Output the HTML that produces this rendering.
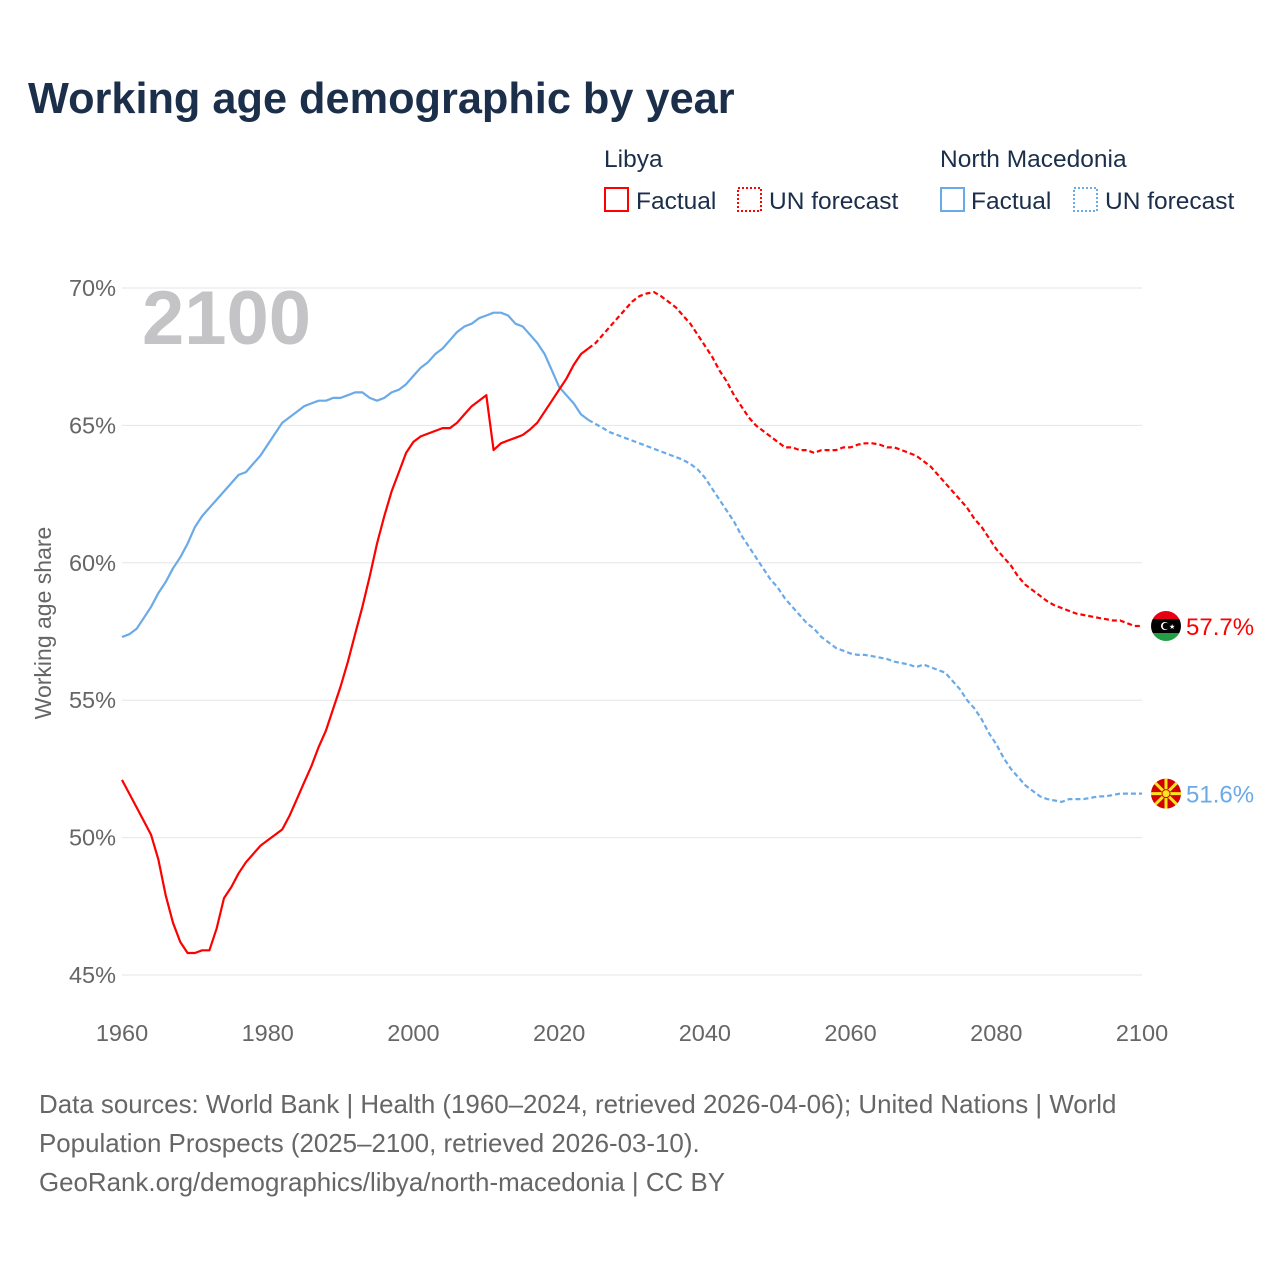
<!DOCTYPE html>
<html><head><meta charset="utf-8">
<style>
body{margin:0;background:#fff;font-family:"Liberation Sans",sans-serif}
#wrap{position:relative;width:1280px;height:1280px;overflow:hidden}
</style></head><body>
<div id="wrap">
<svg id="chart" width="1280" height="1280" xmlns="http://www.w3.org/2000/svg">
<text x="28" y="113" font-size="43.3" font-weight="bold" fill="#1b2f4b">Working age demographic by year</text>
<g font-size="24.5" fill="#1b2f4b">
<text x="604" y="167">Libya</text>
<rect x="605" y="188" width="23" height="23" fill="none" stroke="#f00" stroke-width="2"/>
<text x="636" y="209">Factual</text>
<rect x="738" y="188" width="23" height="23" fill="none" stroke="#f00" stroke-width="2" stroke-dasharray="2,2"/>
<text x="769" y="209">UN forecast</text>
<text x="940" y="167">North Macedonia</text>
<rect x="941" y="188" width="23" height="23" fill="none" stroke="#6aaae8" stroke-width="2"/>
<text x="971" y="209">Factual</text>
<rect x="1074" y="188" width="23" height="23" fill="none" stroke="#6aaae8" stroke-width="2" stroke-dasharray="2,2"/>
<text x="1105" y="209">UN forecast</text>
</g>
<g id="grid"></g>
<text x="142" y="344" font-size="76" font-weight="bold" fill="#c4c4c6">2100</text>
<text transform="translate(51,623) rotate(-90)" text-anchor="middle" font-size="23" fill="#666">Working age share</text>
<g id="series"></g>
<g id="ends"></g>
<g font-size="25.9" fill="#666">
<text x="39" y="1113">Data sources: World Bank | Health (1960–2024, retrieved 2026-04-06); United Nations | World</text>
<text x="39" y="1152">Population Prospects (2025–2100, retrieved 2026-03-10).</text>
<text x="39" y="1191">GeoRank.org/demographics/libya/north-macedonia | CC BY</text>
</g>
</svg>
</div>
<script>
const yTicks=[45,50,55,60,65,70];
const xTicks=[1960,1980,2000,2020,2040,2060,2080,2100];
const libyaFactual=[52.1,51.6,51.1,50.6,50.1,49.2,47.9,46.9,46.2,45.8,45.8,45.9,45.9,46.7,47.8,48.2,48.7,49.1,49.4,49.7,49.9,50.1,50.3,50.8,51.4,52.0,52.6,53.3,53.9,54.7,55.5,56.4,57.4,58.4,59.5,60.7,61.7,62.6,63.3,64.0,64.4,64.6,64.7,64.8,64.9,64.9,65.1,65.4,65.7,65.9,66.1,64.1,64.35,64.45,64.55,64.65,64.85,65.1,65.5,65.9,66.3,66.7,67.2,67.6,67.8];
const libyaForecast=[68.0,68.3,68.6,68.9,69.2,69.5,69.7,69.8,69.85,69.7,69.5,69.3,69.0,68.7,68.3,67.9,67.5,67.0,66.6,66.1,65.7,65.3,65.0,64.8,64.6,64.4,64.2,64.2,64.1,64.1,64.0,64.1,64.1,64.1,64.2,64.2,64.3,64.35,64.35,64.3,64.2,64.2,64.1,64.0,63.9,63.7,63.5,63.2,62.9,62.6,62.3,62.0,61.6,61.3,60.9,60.5,60.2,59.9,59.5,59.2,59.0,58.8,58.6,58.45,58.35,58.25,58.15,58.1,58.05,58.0,57.95,57.9,57.9,57.8,57.7,57.7];
const mkFactual=[57.3,57.4,57.6,58.0,58.4,58.9,59.3,59.8,60.2,60.7,61.3,61.7,62.0,62.3,62.6,62.9,63.2,63.3,63.6,63.9,64.3,64.7,65.1,65.3,65.5,65.7,65.8,65.9,65.9,66.0,66.0,66.1,66.2,66.2,66.0,65.9,66.0,66.2,66.3,66.5,66.8,67.1,67.3,67.6,67.8,68.1,68.4,68.6,68.7,68.9,69.0,69.1,69.1,69.0,68.7,68.6,68.3,68.0,67.6,67.0,66.4,66.1,65.8,65.4,65.2];
const mkForecast=[65.05,64.9,64.75,64.65,64.55,64.45,64.35,64.25,64.15,64.05,63.95,63.85,63.75,63.6,63.4,63.1,62.7,62.3,61.9,61.5,61.0,60.6,60.2,59.8,59.4,59.1,58.7,58.4,58.1,57.8,57.6,57.3,57.1,56.9,56.8,56.7,56.65,56.65,56.6,56.55,56.5,56.4,56.35,56.3,56.2,56.3,56.2,56.1,56.0,55.7,55.4,55.0,54.7,54.3,53.8,53.4,52.9,52.5,52.2,51.9,51.7,51.5,51.4,51.35,51.3,51.4,51.4,51.4,51.45,51.5,51.5,51.55,51.6,51.6,51.6,51.6];
const endLabels=["57.7%","51.6%"];
const NS="http://www.w3.org/2000/svg";
function xs(y){return 122+(y-1960)*(1020/140);}
function ys(v){return 288+(70-v)*(687/25);}
function mk(t,a){const e=document.createElementNS(NS,t);for(const k in a)e.setAttribute(k,a[k]);return e;}
const grid=document.getElementById('grid');
yTicks.forEach(v=>{
 const l=mk('line',{x1:122,x2:1142,y1:ys(v),y2:ys(v),stroke:'#e6e6e6','stroke-width':1});
 
 
 grid.appendChild(l);
 const t=mk('text',{x:116,y:ys(v)+8,'text-anchor':'end','font-size':23.5,fill:'#666'});
 t.textContent=v+'%';
 
 
 grid.appendChild(t);
});
xTicks.forEach(v=>{
 const t=mk('text',{x:xs(v),y:1041,'text-anchor':'middle','font-size':23.5,fill:'#666'});
 t.textContent=v;
 
 
 grid.appendChild(t);
});
const ser=document.getElementById('series');
function path(arr,start,color,dash,name,prev){
 let pts=arr.map((v,i)=>xs(start+i).toFixed(1)+','+ys(v).toFixed(1));
 if(prev!==undefined)pts.unshift(xs(start-1).toFixed(1)+','+ys(prev).toFixed(1));
 const p=mk('polyline',{points:pts.join(' '),fill:'none',stroke:color,'stroke-width':2.2,'stroke-linejoin':'round'});
 if(dash)p.setAttribute('stroke-dasharray','5,3');
 
 
 ser.appendChild(p);
}
path(mkFactual,1960,'#6aaae8',false,'mk-factual-line');
path(mkForecast,2025,'#6aaae8',true,'mk-forecast-line',mkFactual[mkFactual.length-1]);
path(libyaFactual,1960,'#ff0000',false,'libya-factual-line');
path(libyaForecast,2025,'#ff0000',true,'libya-forecast-line',libyaFactual[libyaFactual.length-1]);
const ends=document.getElementById('ends');
const lv=libyaForecast[libyaForecast.length-1], mv=mkForecast[mkForecast.length-1];
let g=mk('g',{});


const cx=1166, ly=ys(lv);
g.innerHTML=`<clipPath id="cl"><circle cx="${cx}" cy="${ly}" r="15"/></clipPath><g clip-path="url(#cl)"><rect x="${cx-15}" y="${ly-15}" width="30" height="8" fill="#e70013"/><rect x="${cx-15}" y="${ly-7}" width="30" height="15" fill="#000"/><rect x="${cx-15}" y="${ly+7}" width="30" height="8" fill="#239e46"/></g><circle cx="${cx-1}" cy="${ly}" r="4" fill="#fff"/><circle cx="${cx}" cy="${ly}" r="3.3" fill="#000"/><text x="${cx+3}" y="${ly+3}" font-size="7" fill="#fff">★</text>`;
ends.appendChild(g);
let t1=mk('text',{x:1186,y:ly+9,'font-size':24,fill:'#ff0000'});
t1.textContent=endLabels[0];


ends.appendChild(t1);
const my=ys(mv);
let g2=mk('g',{});


let rays='';
for(let i=0;i<8;i++){const a=i*Math.PI/4;rays+=`<line x1="${cx}" y1="${my}" x2="${cx+20*Math.cos(a)}" y2="${my+20*Math.sin(a)}" stroke="#f8e71c" stroke-width="3"/>`;}
g2.innerHTML=`<clipPath id="cm"><circle cx="${cx}" cy="${my}" r="15"/></clipPath><g clip-path="url(#cm)"><rect x="${cx-15}" y="${my-15}" width="30" height="30" fill="#d20000"/>${rays}</g><circle cx="${cx}" cy="${my}" r="4" fill="#f8e71c" stroke="#d20000"/>`;
ends.appendChild(g2);
let t2=mk('text',{x:1186,y:my+9,'font-size':24,fill:'#6aaae8'});
t2.textContent=endLabels[1];


ends.appendChild(t2);
</script>
</body></html>
